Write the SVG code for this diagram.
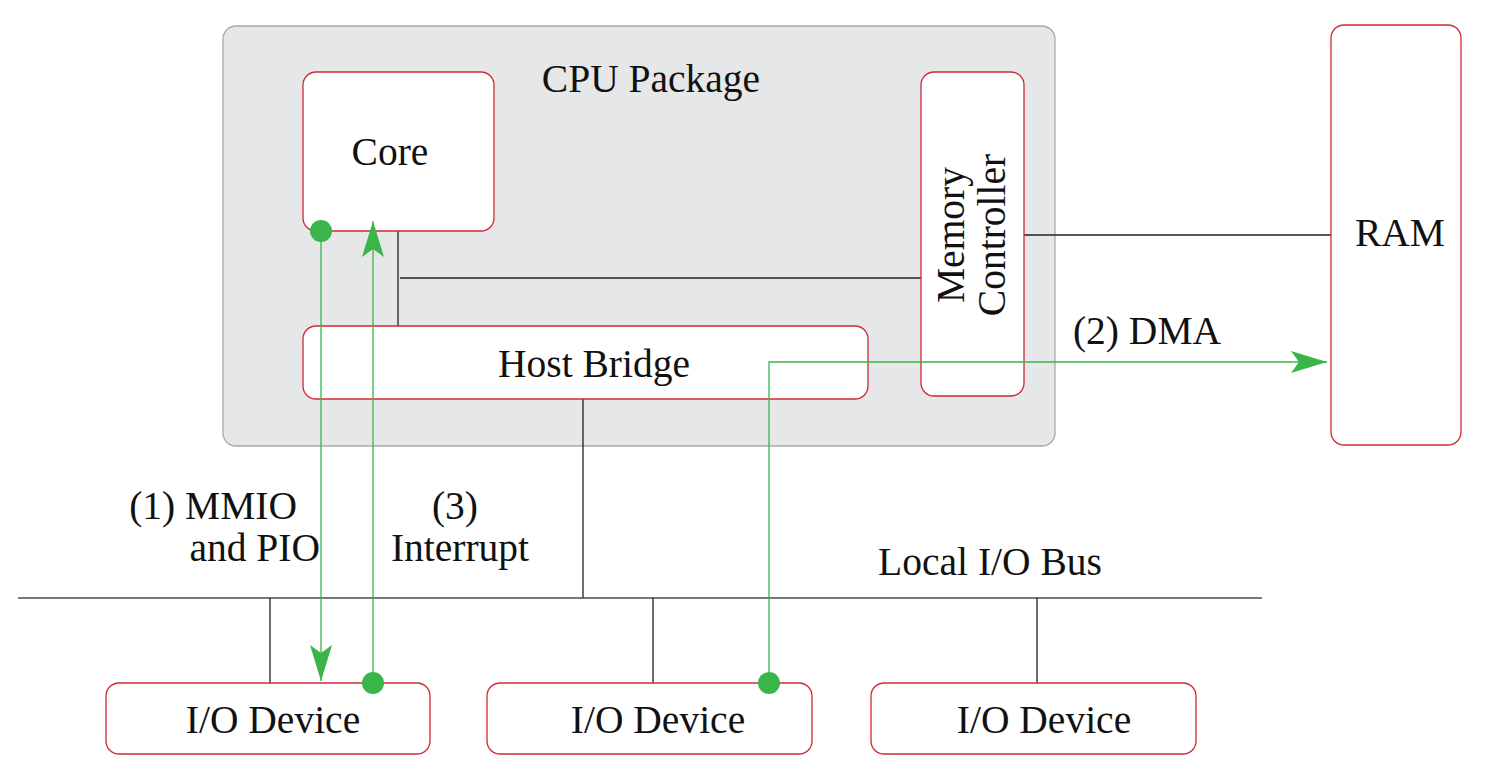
<svg xmlns="http://www.w3.org/2000/svg" width="1486" height="774" viewBox="0 0 1486 774">
<defs>
<style>
.box{fill:#ffffff;stroke:#d0283a;stroke-width:1.3}
.pkg{fill:#e6e7e8;stroke:#a7a9ac;stroke-width:1.3}
.t{font-family:"Liberation Serif","Times New Roman",serif;font-size:39.5px;fill:#111}
.blk{stroke:#231f20;stroke-width:1.3;fill:none}
.bus{stroke:#4d4d4f;stroke-width:1.6;fill:none}
.grn{stroke:#39b54a;stroke-width:1.3;fill:none}
.dot{fill:#39b54a}
</style>
<marker id="ah" markerUnits="userSpaceOnUse" viewBox="-36 -12 37 24" refX="0" refY="0" markerWidth="37" markerHeight="24" orient="auto">
<path d="M0,0 L-36,-11 L-28,0 L-36,11 Z" fill="#39b54a"/>
</marker>
</defs>
<rect width="1486" height="774" fill="#ffffff"/>
<g id="cpu-package">
<rect class="pkg" x="223" y="26" width="832" height="420" rx="13"/>
<text class="t" x="651" y="92" text-anchor="middle">CPU Package</text>
</g>
<g id="connectors">
<line class="blk" x1="398" y1="231" x2="398" y2="326"/>
<line class="blk" x1="400" y1="278" x2="921" y2="278"/>
<line class="blk" x1="1024" y1="235" x2="1331" y2="235"/>
<line class="blk" x1="583" y1="399" x2="583" y2="598"/>
<line class="bus" x1="18" y1="598" x2="1262" y2="598"/>
<line class="blk" x1="270" y1="598" x2="270" y2="683"/>
<line class="blk" x1="653" y1="598" x2="653" y2="683"/>
<line class="blk" x1="1037" y1="598" x2="1037" y2="683"/>
</g>
<g id="core">
<rect class="box" x="303" y="72" width="191" height="159" rx="13"/>
<text class="t" x="390" y="165" text-anchor="middle">Core</text>
</g>
<g id="host-bridge">
<rect class="box" x="303" y="326" width="565" height="73" rx="13"/>
<text class="t" x="594" y="377" text-anchor="middle">Host Bridge</text>
</g>
<g id="memory-controller">
<rect class="box" x="921" y="72" width="103" height="324" rx="13"/>
<text class="t" transform="translate(964,235) rotate(-90)" text-anchor="middle">Memory</text>
<text class="t" transform="translate(1005,235) rotate(-90)" text-anchor="middle">Controller</text>
</g>
<g id="ram">
<rect class="box" x="1331" y="25" width="130" height="420" rx="13"/>
<text class="t" x="1400" y="246" text-anchor="middle">RAM</text>
</g>
<g id="io-device-1">
<rect class="box" x="106" y="683" width="324" height="71" rx="13"/>
<text class="t" x="273" y="733" text-anchor="middle">I/O Device</text>
</g>
<g id="io-device-2">
<rect class="box" x="487" y="683" width="325" height="71" rx="13"/>
<text class="t" x="658" y="733" text-anchor="middle">I/O Device</text>
</g>
<g id="io-device-3">
<rect class="box" x="871" y="683" width="325" height="71" rx="13"/>
<text class="t" x="1044" y="733" text-anchor="middle">I/O Device</text>
</g>
<g id="flows">
<line class="grn" x1="321" y1="231" x2="321" y2="681" marker-end="url(#ah)"/>
<circle class="dot" cx="321" cy="231" r="11"/>
<line class="grn" x1="373" y1="683" x2="373" y2="221" marker-end="url(#ah)"/>
<circle class="dot" cx="373" cy="683" r="11"/>
<polyline class="grn" points="769,683 769,362 1327,362" marker-end="url(#ah)"/>
<circle class="dot" cx="769" cy="683" r="11"/>
</g>
<g id="labels">
<text class="t" x="297" y="519" text-anchor="end">(1) MMIO</text>
<text class="t" x="320" y="561" text-anchor="end">and PIO</text>
<text class="t" x="455" y="519" text-anchor="middle">(3)</text>
<text class="t" x="460" y="561" text-anchor="middle">Interrupt</text>
<text class="t" x="1147" y="344" text-anchor="middle">(2) DMA</text>
<text class="t" x="990" y="575" text-anchor="middle">Local I/O Bus</text>
</g>
</svg>
